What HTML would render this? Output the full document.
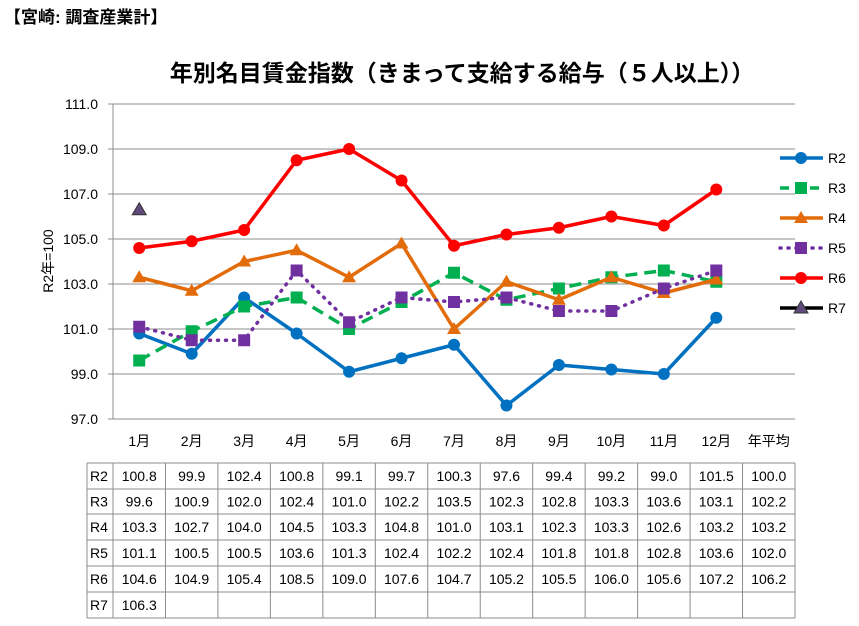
<!DOCTYPE html>
<html><head><meta charset="utf-8"><style>
body{margin:0;background:#fff;width:859px;height:621px;overflow:hidden;font-family:"Liberation Sans","Noto Sans CJK JP",sans-serif;}
svg text{font-family:"Liberation Sans","Noto Sans CJK JP",sans-serif;}
</style></head><body>
<svg id="c" width="859" height="621" xmlns="http://www.w3.org/2000/svg">
<text x="4" y="23" font-size="17" font-weight="bold" fill="#000">【宮崎: 調査産業計】</text>
<text x="462" y="81" font-size="23" font-weight="bold" text-anchor="middle" fill="#000">年別名目賃金指数（きまって支給する給与（５人以上））</text>
<text transform="translate(53,261) rotate(-90)" font-size="14" text-anchor="middle" fill="#000">R2年=100</text>
<g id="grid"></g><g id="series"></g><g id="legend"></g><g id="table"></g>
</svg>
<script>
const categories=["1月","2月","3月","4月","5月","6月","7月","8月","9月","10月","11月","12月","年平均"];
const seriesNames=["R2","R3","R4","R5","R6","R7"];
const R2=[100.8,99.9,102.4,100.8,99.1,99.7,100.3,97.6,99.4,99.2,99.0,101.5,100.0];
const R3=[99.6,100.9,102.0,102.4,101.0,102.2,103.5,102.3,102.8,103.3,103.6,103.1,102.2];
const R4=[103.3,102.7,104.0,104.5,103.3,104.8,101.0,103.1,102.3,103.3,102.6,103.2,103.2];
const R5=[101.1,100.5,100.5,103.6,101.3,102.4,102.2,102.4,101.8,101.8,102.8,103.6,102.0];
const R6=[104.6,104.9,105.4,108.5,109.0,107.6,104.7,105.2,105.5,106.0,105.6,107.2,106.2];
const R7=[106.3];
const yTicks=[97,99,101,103,105,107,109,111];
const NS="http://www.w3.org/2000/svg";
const X0=113,X1=795,Y0=104,Y1=419,YMIN=97,YMAX=111;
const cw=(X1-X0)/categories.length;
const xs=i=>X0+cw*(i+0.5);
const ys=v=>Y1-(v-YMIN)/(YMAX-YMIN)*(Y1-Y0);
function mk(tag,attrs,parent){const e=document.createElementNS(NS,tag);for(const k in attrs)e.setAttribute(k,attrs[k]);parent.appendChild(e);return e;}
const grid=document.getElementById('grid');
yTicks.forEach(t=>{
 const l=mk('line',{x1:X0-5,x2:X1,y1:ys(t),y2:ys(t),stroke:'#8c8c8c','stroke-width':1},grid);
 
 
 const tx=mk('text',{x:X0-15,y:ys(t)+5,'font-size':14,'text-anchor':'end',fill:'#000'},grid);
 tx.textContent=t.toFixed(1);
 
 
});
const ax=mk('line',{x1:X0,x2:X0,y1:Y0,y2:Y1,stroke:'#8c8c8c','stroke-width':1},grid);


categories.forEach((c,i)=>{
 const t=mk('text',{x:xs(i),y:446,'font-size':14,'text-anchor':'middle',fill:'#000'},grid);
 t.textContent=c;
 
 
});
const styles=[
 {d:R2,c:'#0070c0',dash:'',m:'circle'},
 {d:R3,c:'#00b050',dash:'12,7',m:'square'},
 {d:R4,c:'#e36c0a',dash:'',m:'triangle'},
 {d:R5,c:'#7030a0',dash:'1,7',m:'square',cap:'round'},
 {d:R6,c:'#ff0000',dash:'',m:'circle'},
 {d:R7,c:'#000',dash:'',m:'triangle',mc:'#604a7b'}
];
function marker(g,type,x,y,col,stroke){
 let e;
 if(type==='circle')e=mk('circle',{cx:x,cy:y,r:6,fill:col},g);
 else if(type==='square')e=mk('rect',{x:x-6,y:y-6,width:12,height:12,fill:col},g);
 else e=mk('polygon',{points:`${x},${y-7} ${x+7},${y+5} ${x-7},${y+5}`,fill:col,stroke:stroke||'none','stroke-width':1},g);
 return e;
}
const sg=document.getElementById('series');
styles.forEach((s,si)=>{
 const g=mk('g',{},sg);
 
 
 const n=Math.min(s.d.length,12);
 if(n>1){
  const pts=[];for(let i=0;i<n;i++)pts.push(xs(i)+','+ys(s.d[i]));
  const p=mk('polyline',{points:pts.join(' '),fill:'none',stroke:s.c,'stroke-width':3.5,'stroke-dasharray':s.dash,'stroke-linecap':s.cap||'butt','stroke-linejoin':'round'},g);
  
  
 }
 for(let i=0;i<n;i++){
  const m=marker(g,s.m,xs(i),ys(s.d[i]),s.mc||s.c,s.mc?'#333':null);
  
  
 }
});
const lg=document.getElementById('legend');
styles.forEach((s,si)=>{
 const y=158+si*30;
 const g=mk('g',{},lg);
 
 
 mk('line',{x1:780,x2:823,y1:y,y2:y,stroke:s.c,'stroke-width':3.5,'stroke-dasharray':s.dash?(s.cap?'1,7':'9,6'):'','stroke-linecap':s.cap||'butt'},g);
 marker(g,s.m,801,y,s.mc||s.c,s.mc?'#333':null);
 const t=mk('text',{x:828,y:y+5,'font-size':14,fill:'#000'},g);
 t.textContent=seriesNames[si];
});
const tb=document.getElementById('table');
const data=[R2,R3,R4,R5,R6,R7];
const rowY=[463,489,514,540,566,592,618];
const TL=87;
const tl=(x1,y1,x2,y2)=>mk('line',{x1,y1,x2,y2,stroke:'#8c8c8c','stroke-width':1},tb);
for(let r=0;r<rowY.length;r++)tl(TL,rowY[r],X1,rowY[r]);
tl(TL,rowY[0],TL,rowY[6]);
for(let i=0;i<=categories.length;i++)tl(X0+cw*i,rowY[0],X0+cw*i,rowY[6]);
data.forEach((d,r)=>{
 const yy=(rowY[r]+rowY[r+1])/2+5;
 const h=mk('text',{x:TL+3,y:yy,'font-size':14,fill:'#000'},tb);
 h.textContent=seriesNames[r];
 
 
 d.forEach((v,i)=>{
  const t=mk('text',{x:xs(i),y:yy,'font-size':14,'text-anchor':'middle',fill:'#000'},tb);
  t.textContent=v.toFixed(1);
  
  
 });
});
</script>
</body></html>
